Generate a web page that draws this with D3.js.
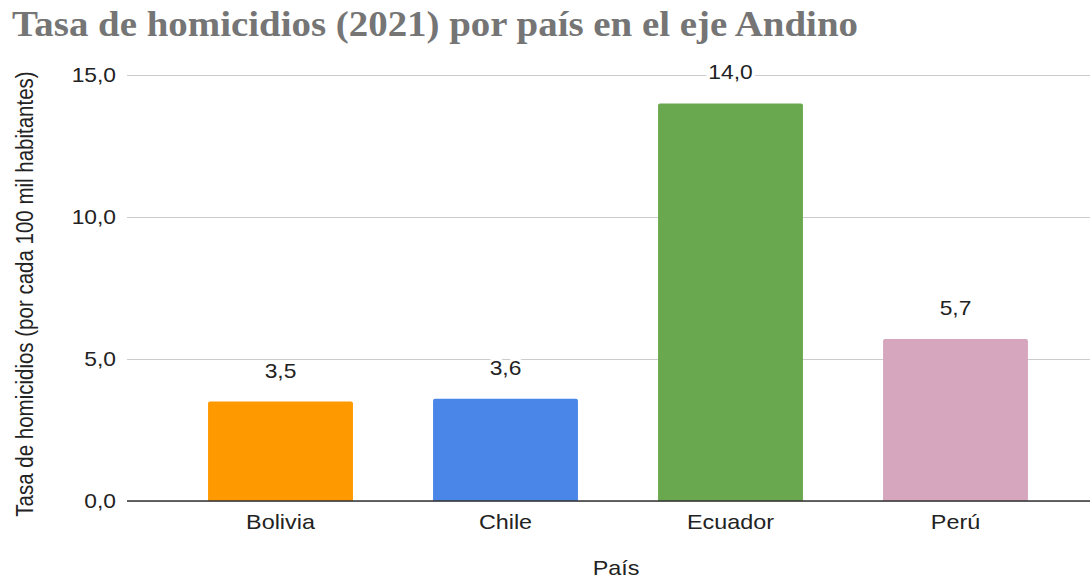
<!DOCTYPE html>
<meta charset="utf-8">
<style>
body { margin: 0; background: #fff; font-family: Arial, "Liberation Sans", sans-serif; }
.grid line { stroke: #cccccc; stroke-width: 1; shape-rendering: crispEdges; }
.grid path { display: none; }
</style>
<body>
<script src="https://d3js.org/d3.v7.min.js"></script>
<script>

// data
var paises = ["Bolivia", "Chile", "Ecuador", "Perú"];
var tasas = [3.5, 3.6, 14.0, 5.7];
var colores = ["#ff9900", "#4a86e8", "#6aa84f", "#d5a6bd"];
var yTicks = [0, 5, 10, 15];

var width = 1090, height = 582;
var sx = 1.14; // the reference text is a bit wide

var svg = d3.select("body")
    .append("svg")
    .attr("width", width)
    .attr("height", height);

var fmt = function(v) { return d3.format(".1f")(v).replace(".", ","); };

// scales
var x = d3.scaleBand()
    .domain(paises)
    .range([168, 1068])
    .paddingInner(0.356)
    .paddingOuter(0.178);

var y = d3.scaleLinear()
    .domain([0, 15])
    .range([501, 75]);

// gridlines
svg.append("g")
    .attr("class", "grid")
    .attr("transform", "translate(127,0)")
    .call(d3.axisLeft(y).tickValues(yTicks).tickSize(-(width - 127)).tickFormat(""));

// y tick labels
svg.selectAll(".ylab")
    .data(yTicks)
  .enter().append("text")
    .attr("class", "ylab")
    .attr("transform", function(d) { return "translate(116," + y(d) + ") scale(" + sx + ",1)"; })
    .attr("dy", "0.35em")
    .attr("text-anchor", "end")
    .attr("font-size", "20px")
    .attr("fill", "#222")
    .text(fmt);

// bars
svg.selectAll(".bar")
    .data(tasas)
  .enter().append("path")
    .attr("class", "bar")
    .attr("fill", function(d, i) { return colores[i]; })
    .attr("d", function(d, i) {
        var x0 = x(paises[i]), w = x.bandwidth(), y0 = y(d), y1 = y(0), r = 2;
        return "M" + x0 + "," + y1 + "V" + (y0 + r) + "Q" + x0 + "," + y0 + " " + (x0 + r) + "," + y0 +
            "H" + (x0 + w - r) + "Q" + (x0 + w) + "," + y0 + " " + (x0 + w) + "," + (y0 + r) + "V" + y1 + "Z";
    });

// baseline
svg.append("line")
    .attr("x1", 127).attr("x2", width)
    .attr("y1", y(0)).attr("y2", y(0))
    .attr("stroke", "#333")
    .attr("stroke-width", 1.3);

// value labels (white halo breaks the gridline behind)
svg.selectAll(".val")
    .data(tasas)
  .enter().append("text")
    .attr("class", "val")
    .attr("transform", function(d, i) {
        return "translate(" + (x(paises[i]) + x.bandwidth() / 2) + "," + (y(d) - 31) + ") scale(" + sx + ",1)";
    })
    .attr("dy", "0.35em")
    .attr("text-anchor", "middle")
    .attr("font-size", "20px")
    .attr("fill", "#222")
    .attr("stroke", "#fff")
    .attr("stroke-width", 6)
    .attr("paint-order", "stroke")
    .text(fmt);

// category labels
svg.selectAll(".cat")
    .data(paises)
  .enter().append("text")
    .attr("class", "cat")
    .attr("transform", function(d) { return "translate(" + (x(d) + x.bandwidth() / 2) + ",529) scale(" + sx + ",1)"; })
    .attr("text-anchor", "middle")
    .attr("font-size", "20.5px")
    .attr("fill", "#222")
    .text(function(d) { return d; });

// axis titles
svg.append("text")
    .attr("transform", "translate(616,575) scale(" + sx + ",1)")
    .attr("text-anchor", "middle")
    .attr("font-size", "20.5px")
    .attr("fill", "#222")
    .text("País");

svg.append("text")
    .attr("transform", "translate(25,294) scale(" + sx + ",1) rotate(-90)")
    .attr("dy", "0.35em")
    .attr("text-anchor", "middle")
    .attr("font-size", "20.5px")
    .attr("fill", "#222")
    .text("Tasa de homicidios (por cada 100 mil habitantes)");

// title
svg.append("text")
    .attr("x", 12)
    .attr("y", 36)
    .attr("font-family", "'Liberation Serif', 'DejaVu Serif', serif")
    .attr("font-weight", "bold")
    .attr("font-size", "35px")
    .attr("fill", "#757575")
    .attr("textLength", 846)
    .attr("lengthAdjust", "spacingAndGlyphs")
    .text("Tasa de homicidios (2021) por país en el eje Andino");

</script>
</body>
